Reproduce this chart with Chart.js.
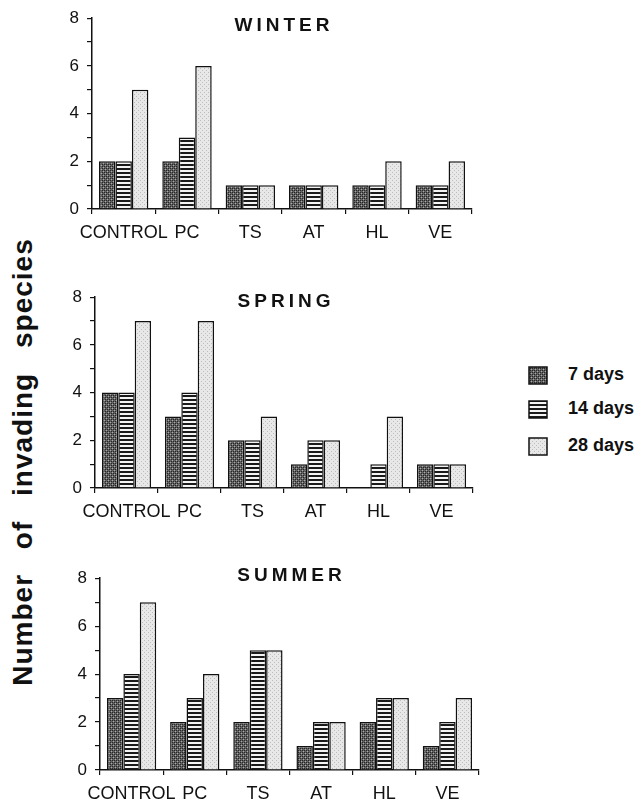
<!DOCTYPE html>
<html>
<head>
<meta charset="utf-8">
<script src="https://cdn.jsdelivr.net/npm/chart.js@4/dist/chart.umd.min.js"></script>
<style>
  html, body { margin: 0; padding: 0; background: #fff; overflow: hidden; }
  body { width: 644px; height: 804px; position: relative; font-family: "Liberation Sans", Arial, sans-serif; }
  canvas.panel { position: absolute; }
  #ytitle {
    position: absolute; left: 23px; top: 462px;
    transform: translate(-50%, -50%) rotate(-90deg);
    white-space: nowrap; font-weight: bold; font-size: 28px;
    letter-spacing: 1px; word-spacing: 16px; color: #111;
  }
  .leg { position: absolute; left: 528px; font-weight: bold; font-size: 18px; color: #111; }
  .leg canvas { position: absolute; left: 0; top: 0; }
  .leg span { position: absolute; left: 40px; top: -2px; white-space: nowrap; }
</style>
</head>
<body>
<div id="ytitle">Number of invading species</div>
<canvas id="winter" class="panel"></canvas>
<canvas id="spring" class="panel"></canvas>
<canvas id="summer" class="panel"></canvas>
<div id="legend"></div>

<script>
// data
const categories = ['CONTROL', 'PC', 'TS', 'AT', 'HL', 'VE'];
const seriesNames = ['7 days', '14 days', '28 days'];
const yMax = 8;

const winter7 = [2, 2, 1, 1, 1, 1];
const winter14 = [2, 3, 1, 1, 1, 1];
const winter28 = [5, 6, 1, 1, 2, 2];

const spring7 = [4, 3, 2, 1, 0, 1];
const spring14 = [4, 4, 2, 2, 1, 1];
const spring28 = [7, 7, 3, 2, 3, 1];

const summer7 = [3, 2, 2, 1, 2, 1];
const summer14 = [4, 3, 5, 2, 3, 2];
const summer28 = [7, 4, 5, 2, 3, 3];

// fill patterns like the printed hatching
function makePattern(kind) {
  const c = document.createElement('canvas');
  const g = c.getContext('2d');
  c.width = 4; c.height = 4;
  if (kind == 0) {
    g.fillStyle = '#626262'; g.fillRect(0, 0, 4, 4);
    g.fillStyle = '#262626';
    g.fillRect(0, 0, 1, 1); g.fillRect(2, 2, 1, 1); g.fillRect(2, 0, 1, 1); g.fillRect(0, 2, 1, 1);
    g.fillStyle = '#aaaaaa';
    g.fillRect(1, 1, 1, 1); g.fillRect(3, 3, 1, 1);
  } else if (kind == 1) {
    g.fillStyle = '#f4f4f4'; g.fillRect(0, 0, 4, 4);
    g.fillStyle = '#1a1a1a'; g.fillRect(0, 0, 4, 2);
  } else {
    g.fillStyle = '#e8e8e8'; g.fillRect(0, 0, 4, 4);
    g.fillStyle = '#bdbdbd';
    g.fillRect(0, 0, 1, 1); g.fillRect(2, 2, 1, 1);
  }
  return document.createElement('canvas').getContext('2d').createPattern(c, 'repeat');
}
const patterns = [makePattern(0), makePattern(1), makePattern(2)];

const panelTitle = {
  id: 'panelTitle',
  afterDraw(chart, args, opts) {
    const ctx = chart.ctx;
    const a = chart.chartArea;
    ctx.save();
    ctx.font = 'bold 19px "Liberation Sans", Arial, sans-serif';
    ctx.letterSpacing = '4px';
    ctx.fillStyle = '#111';
    ctx.textAlign = 'center';
    ctx.textBaseline = 'middle';
    ctx.fillText(opts.text, (a.left + a.right) / 2 + 2, a.top + opts.dy);
    ctx.restore();
  }
};

function makePanel(id, title, values, box) {
  const cv = document.getElementById(id);
  cv.width = box.w; cv.height = box.h;
  cv.style.left = box.x + 'px'; cv.style.top = box.y + 'px';
  cv.style.width = box.w + 'px'; cv.style.height = box.h + 'px';

  return new Chart(cv.getContext('2d'), {
    type: 'bar',
    data: {
      labels: categories,
      datasets: values.map((v, i) => ({
        label: seriesNames[i],
        data: v,
        backgroundColor: patterns[i],
        borderColor: '#111',
        borderWidth: 1.5,
        categoryPercentage: 0.78,
        barPercentage: 1
      }))
    },
    options: {
      responsive: false,
      animation: false,
      devicePixelRatio: 1,
      layout: { padding: { top: 13, right: 8, left: 0, bottom: 0 } },
      plugins: {
        legend: { display: false },
        tooltip: { enabled: false },
        panelTitle: { text: title, dy: box.titleDy }
      },
      scales: {
        x: {
          afterFit: s => { s.height = 41; },
          border: { color: '#111', width: 1.5 },
          grid: { offset: true, drawOnChartArea: false, drawTicks: true, tickLength: 5, color: '#111', lineWidth: 1.2 },
          ticks: { color: '#111', padding: 8, maxRotation: 0, autoSkip: false,
                   font: { family: '"Liberation Sans", Arial, sans-serif', size: 18 } }
        },
        y: {
          min: 0, max: yMax,
          afterFit: s => { s.width = 52; },
          border: { color: '#111', width: 1.5 },
          grid: { drawOnChartArea: false, drawTicks: true, tickLength: 5, color: '#111', lineWidth: 1.2 },
          ticks: { stepSize: 1, color: '#111', padding: 8,
                   callback: v => (v % 2 == 0 ? v : ''),
                   font: { family: '"Liberation Sans", Arial, sans-serif', size: 17 } }
        }
      }
    },
    plugins: [panelTitle]
  });
}

makePanel('winter', 'WINTER', [winter7, winter14, winter28], { x: 40, y: 0, w: 440, h: 250, titleDy: 8 });
makePanel('spring', 'SPRING', [spring7, spring14, spring28], { x: 43, y: 279, w: 438, h: 250, titleDy: 5 });
makePanel('summer', 'SUMMER', [summer7, summer14, summer28], { x: 48, y: 560, w: 439, h: 251, titleDy: -2 });

// legend
const legend = document.getElementById('legend');
const legendTops = [366, 400, 437];
seriesNames.forEach((name, i) => {
  const d = document.createElement('div');
  d.className = 'leg';
  d.style.top = legendTops[i] + 'px';
  const c = document.createElement('canvas');
  c.width = 20; c.height = 19;
  const g = c.getContext('2d');
  g.fillStyle = patterns[i];
  g.fillRect(1, 1, 18, 17);
  g.strokeStyle = '#111'; g.lineWidth = 1.5;
  g.strokeRect(1, 1, 18, 17);
  d.appendChild(c);
  const s = document.createElement('span');
  s.textContent = name;
  d.appendChild(s);
  legend.appendChild(d);
});
</script>
</body>
</html>
